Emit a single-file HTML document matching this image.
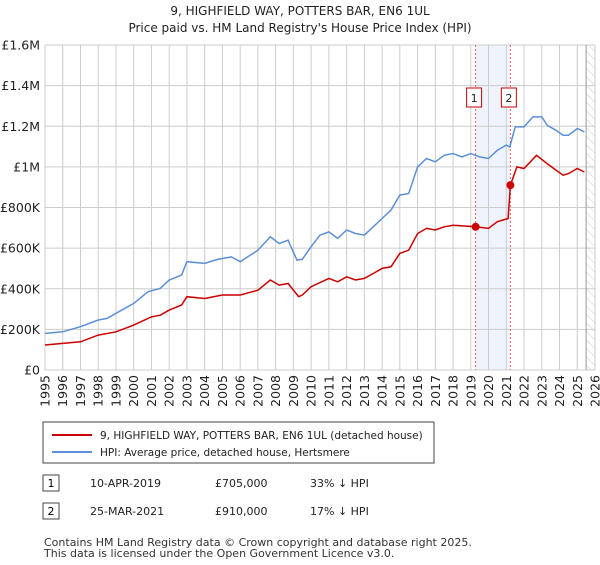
<!DOCTYPE html>
<html><head><meta charset="utf-8"><style>
body{margin:0;background:#fff;font-family:"Liberation Sans","DejaVu Sans",sans-serif;}
svg text{font-family:"DejaVu Sans","Liberation Sans",sans-serif;}
</style></head><body>
<svg id="c" width="600" height="560" xmlns="http://www.w3.org/2000/svg">
<defs><pattern id="hatch" width="6" height="6" patternUnits="userSpaceOnUse" patternTransform="rotate(-45)"><line x1="0" y1="0" x2="0" y2="6" stroke="#ccc" stroke-width="1"/></pattern></defs>
<text x="300" y="15" text-anchor="middle" font-size="12" fill="#222">9, HIGHFIELD WAY, POTTERS BAR, EN6 1UL</text>
<text x="300" y="32" text-anchor="middle" font-size="12" fill="#222">Price paid vs. HM Land Registry's House Price Index (HPI)</text>
<g id="grid"></g><g id="plot"></g>
<rect x="43" y="422" width="391" height="41" fill="#fff" stroke="#444"/>
<line x1="52" y1="435" x2="92" y2="435" stroke="#cc0000" stroke-width="2"/>
<text x="100" y="439" font-size="10.5" fill="#222">9, HIGHFIELD WAY, POTTERS BAR, EN6 1UL (detached house)</text>
<line x1="52" y1="452" x2="92" y2="452" stroke="#5b8fd6" stroke-width="2"/>
<text x="100" y="456" font-size="10.5" fill="#222">HPI: Average price, detached house, Hertsmere</text>
<rect x="43" y="475" width="16" height="16" fill="#fff" stroke="#444"/>
<text x="51" y="487" text-anchor="middle" font-size="11">1</text>
<text x="90" y="487" font-size="11" fill="#222">10-APR-2019</text>
<text x="215" y="487" font-size="11" fill="#222">£705,000</text>
<text x="310" y="487" font-size="11" fill="#222">33% ↓ HPI</text>
<rect x="43" y="503" width="16" height="16" fill="#fff" stroke="#444"/>
<text x="51" y="515" text-anchor="middle" font-size="11">2</text>
<text x="90" y="515" font-size="11" fill="#222">25-MAR-2021</text>
<text x="215" y="515" font-size="11" fill="#222">£910,000</text>
<text x="310" y="515" font-size="11" fill="#222">17% ↓ HPI</text>
<text x="44" y="546" font-size="11" fill="#333">Contains HM Land Registry data © Crown copyright and database right 2025.</text>
<text x="44" y="557" font-size="11" fill="#333">This data is licensed under the Open Government Licence v3.0.</text>
</svg>
<script>
const hpiYears=[1995,1996,1997,1998,1998.5,1999,2000,2000.8,2001.5,2002,2002.7,2003,2004,2004.7,2005.5,2006,2007,2007.7,2008.2,2008.7,2009.2,2009.5,2010,2010.5,2011,2011.5,2012,2012.5,2013,2013.5,2014,2014.5,2015,2015.5,2016,2016.5,2017,2017.5,2018,2018.5,2019,2019.5,2020,2020.5,2021,2021.2,2021.5,2022,2022.5,2023,2023.3,2023.8,2024.2,2024.5,2025,2025.4];
const hpiValues=[180,188,213,246,254,279,328,385,402,443,467,533,525,544,557,533,590,656,623,639,541,545,607,664,680,648,689,672,664,705,746,787,861,869,1000,1041,1025,1057,1066,1049,1066,1049,1041,1082,1107,1098,1197,1197,1246,1246,1205,1180,1156,1156,1189,1172];
const ppYears=[1995,1996,1997,1998,1999,2000,2001,2001.5,2002,2002.7,2003,2004,2005,2006,2007,2007.7,2008.2,2008.7,2009.3,2009.5,2010,2011,2011.5,2012,2012.5,2013,2013.5,2014,2014.5,2015,2015.5,2016,2016.5,2017,2017.5,2018,2019.27,2020,2020.5,2021.1,2021.23,2021.6,2022,2022.7,2023.3,2023.8,2024.2,2024.5,2025,2025.4];
const ppValues=[123,131,139,172,188,221,262,270,295,320,361,352,369,369,393,443,418,426,361,369,410,451,434,459,443,451,475,500,508,574,590,672,697,689,705,713,705,697,730,746,910,1000,992,1057,1016,984,959,967,992,975];
const saleYears=[2019.27,2021.23];
const saleValues=[705,910];
const yTicks=[0,200,400,600,800,1000,1200,1400,1600];
const yTickLabels=["£0","£200K","£400K","£600K","£800K","£1M","£1.2M","£1.4M","£1.6M"];
const xTicks=[1995,1996,1997,1998,1999,2000,2001,2002,2003,2004,2005,2006,2007,2008,2009,2010,2011,2012,2013,2014,2015,2016,2017,2018,2019,2020,2021,2022,2023,2024,2025,2026];
const NS="http://www.w3.org/2000/svg";
const X0=45,X1=595,Y0=370,Y1=45;
const xs=y=>X0+(y-1995)/(2026-1995)*(X1-X0);
const ys=v=>Y0-v/1600*(Y0-Y1);
const grid=document.getElementById('grid'),plot=document.getElementById('plot');
function mk(tag,attrs,parent){const e=document.createElementNS(NS,tag);for(const k in attrs)e.setAttribute(k,attrs[k]);parent.appendChild(e);return e;}
let e;
e=mk('rect',{x:xs(2019.27),y:Y1,width:xs(2021.23)-xs(2019.27),height:Y0-Y1,fill:'#eef3fc'},grid);


e=mk('rect',{x:xs(2025.5),y:Y1,width:X1-xs(2025.5),height:Y0-Y1,fill:'url(#hatch)'},grid);


yTicks.forEach((t,i)=>{
 e=mk('line',{x1:X0,x2:X1,y1:ys(t),y2:ys(t),stroke:'#ccc'},grid);
 
 
 e=mk('text',{x:40,y:ys(t)+4.5,'text-anchor':'end','font-size':'12.5',fill:'#222'},grid);e.textContent=yTickLabels[i];
 
 
});
xTicks.forEach(t=>{
 e=mk('line',{x1:xs(t),x2:xs(t),y1:Y1,y2:Y0,stroke:'#ccc'},grid);
 
 
 e=mk('text',{x:0,y:0,'text-anchor':'end','font-size':'12.5',fill:'#222',transform:`translate(${xs(t)+4.5},${Y0+5}) rotate(-90)`},grid);e.textContent=t;
 
 
});
e=mk('line',{x1:xs(2025.5),x2:xs(2025.5),y1:Y1,y2:Y0,stroke:'#999'},grid);


saleYears.forEach((y,i)=>{
 e=mk('line',{x1:xs(y),x2:xs(y),y1:Y1,y2:Y0,stroke:'#f06060','stroke-dasharray':'2,2'},grid);
 
 
 e=mk('rect',{x:xs(y)-9,y:88,width:15,height:19,fill:'#fff',stroke:'#cc0000'},grid);
 
 
 e=mk('text',{x:xs(y)-1.5,y:102,'text-anchor':'middle','font-size':'11',fill:'#222'},grid);e.textContent=String(i+1);
 
 
});
e=mk('path',{d:hpiYears.map((y,i)=>(i?'L':'M')+xs(y).toFixed(1)+','+ys(hpiValues[i]).toFixed(1)).join(''),fill:'none',stroke:'#5b8fd6','stroke-width':1.5},plot);


e=mk('path',{d:ppYears.map((y,i)=>(i?'L':'M')+xs(y).toFixed(1)+','+ys(ppValues[i]).toFixed(1)).join(''),fill:'none',stroke:'#cc0000','stroke-width':1.5},plot);


saleYears.forEach((y,i)=>{
 e=mk('circle',{cx:xs(y),cy:ys(saleValues[i]),r:4,fill:'#cc0000'},plot);
 
 
});
</script>
</body></html>
